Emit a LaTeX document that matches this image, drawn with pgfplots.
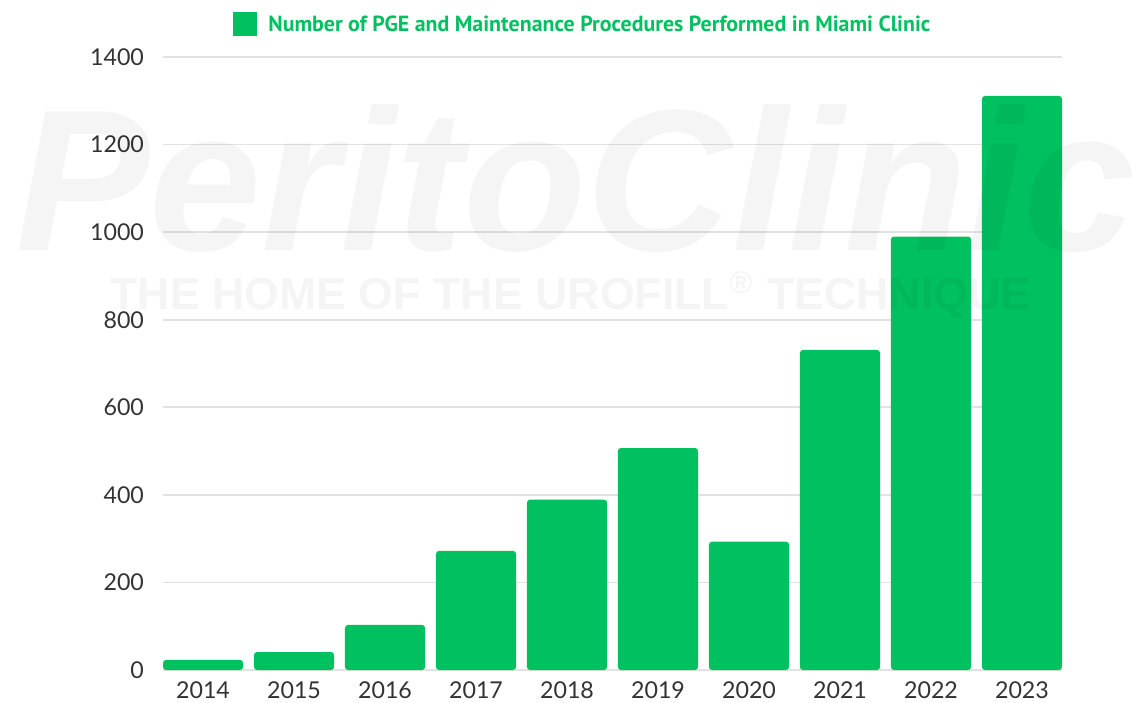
\documentclass[border=0pt]{standalone}
\usepackage{fontspec}
\setmainfont{Lato}
\newfontfamily\titlefont{PT Sans}
\newfontfamily\wmfont{Liberation Sans}
\usepackage{graphicx}
\usepackage{pgfplots}
\pgfplotsset{compat=1.18}
\definecolor{bargreen}{RGB}{0,192,96}
\definecolor{tickc}{RGB}{51,51,51}
\definecolor{gridc}{RGB}{226,226,226}
\begin{document}
\begin{tikzpicture}[x=1pt,y=1pt]
\useasboundingbox (0,0) rectangle (567.5,351);
\begin{axis}[
  at={(81.5pt,16pt)}, anchor=south west,
  scale only axis, width=449.5pt, height=306.5pt,
  xmin=-0.44, xmax=9.44, ymin=0, ymax=1400,
  axis line style={draw=none}, major tick length=0pt,
  ymajorgrids, grid style={gridc, line width=0.8pt},
  ytick={0,200,...,1400},
  xtick={0,...,9},
  xticklabels={2014,2015,2016,2017,2018,2019,2020,2021,2022,2023},
  /pgf/number format/assume math mode=true,
  /pgf/number format/1000 sep={},
  tick label style={text=tickc, font=\fontsize{11.6}{13}\selectfont},
  yticklabel style={xshift=-6pt},
  xticklabel style={yshift=-2.5pt},
  ybar, bar width=0.88,
]
\addplot[fill=bargreen, draw=none, rounded corners=1.5pt] coordinates {
(0,23) (1,41) (2,103) (3,272) (4,389) (5,507) (6,293) (7,731) (8,990) (9,1311)
};
\end{axis}
\node[anchor=base west, inner sep=0, opacity=0.04, text opacity=0.04] at (7.5,226)
  {\resizebox{560pt}{!}{\wmfont\bfseries\itshape PeritoClinic}};
\node[anchor=base west, inner sep=0, opacity=0.04, text opacity=0.04] at (55,196)
  {\resizebox{460pt}{!}{\wmfont\bfseries THE HOME OF THE UROFILL\textsuperscript{\textregistered} TECHNIQUE}};
\fill[bargreen] (116.5,333) rectangle (128.5,345);
\node[anchor=west, inner sep=0, text=bargreen] at (134,339)
  {\resizebox{331pt}{!}{\titlefont\bfseries\fontsize{11}{12}\selectfont Number of PGE and Maintenance Procedures Performed in Miami Clinic}};
\end{tikzpicture}
\end{document}
